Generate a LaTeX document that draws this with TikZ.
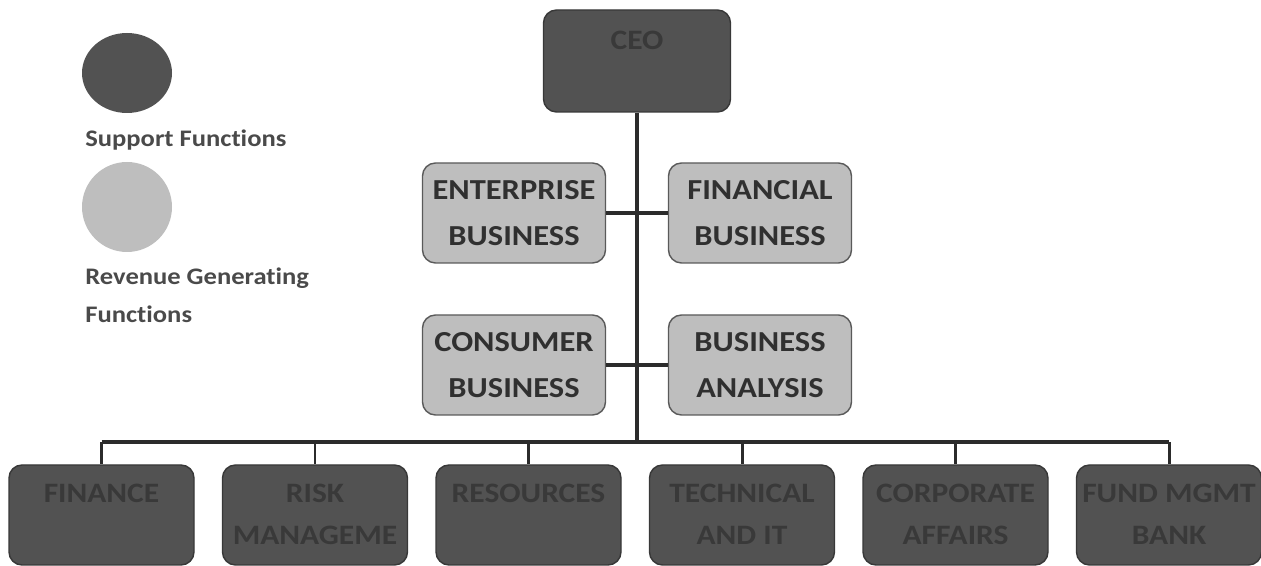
\documentclass[tikz,border=0pt]{standalone}
\usepackage{fontspec}
\setmainfont{Carlito}[FakeStretch=1.12, Ligatures=NoCommon]
\usetikzlibrary{positioning, calc, shapes.geometric}

\definecolor{supfill}{HTML}{525252}
\definecolor{supline}{HTML}{383838}
\definecolor{supink}{HTML}{393939}
\definecolor{revfill}{HTML}{BEBEBE}
\definecolor{revline}{HTML}{5A5A5A}
\definecolor{revink}{HTML}{303030}
\definecolor{wire}{HTML}{2B2B2B}
\definecolor{keyink}{HTML}{4A4A4A}

\begin{document}
\begin{tikzpicture}[
  font=\bfseries,
  support/.style={draw=supline, line width=0.8pt, rounded corners=0.26cm, fill=supfill, minimum width=3.7cm, minimum height=2.0cm, inner sep=0pt},
  supptext/.style={anchor=north, align=center, text=supink, font=\bfseries\fontsize{16}{24}\selectfont, inner sep=0pt},
  revenue/.style={draw=revline, line width=0.8pt, rounded corners=0.26cm, fill=revfill, minimum width=3.66cm, minimum height=2.0cm, align=center, text=revink, font=\bfseries\fontsize{16.5}{26}\selectfont, inner sep=0pt},
  keytext/.style={anchor=base west, text=keyink, font=\bfseries\fontsize{13.5}{21.6}\selectfont, inner sep=0pt},
  spine/.style={draw=wire, line width=2.3pt},
  drop/.style={draw=wire, line width=1.7pt}
]
\useasboundingbox (0,0) rectangle (25.22,11.32);

% legend
\node[fill=supfill, ellipse, minimum width=1.8cm, minimum height=1.6cm, inner sep=0pt] (keysup) at (2.54,9.86) {};
\node[keytext] (keysuptext) at (1.70,8.38) {Support Functions};
\node[fill=revfill, circle, minimum size=1.8cm, inner sep=0pt] (keyrev) at (2.54,7.18) {};
\node[keytext] (keyrevtext) at (1.70,5.62) {Revenue Generating};
\node[keytext] (keyrevtext2) at (1.70,4.86) {Functions};

% head of the chart
\node[support, minimum width=3.74cm, minimum height=2.04cm] (ceo) at (12.74,10.10) {};
\node[supptext] at ([yshift=-0.42cm]ceo.north) {CEO};

% revenue units on the spine
\node[revenue] (ent) at (10.28,7.06) {ENTERPRISE\\BUSINESS};
\node[revenue] (fin) at (15.20,7.06) {FINANCIAL\\BUSINESS};
\node[revenue] (con) at (10.28,4.02) {CONSUMER\\BUSINESS};
\node[revenue] (ana) at (15.20,4.02) {BUSINESS\\ANALYSIS};

\coordinate (hub) at (12.74,2.48);

% support units along the bottom
\foreach \name/\txt [count=\i from 0] in {financebox/FINANCE, riskbox/RISK\\MANAGEME, resbox/RESOURCES, techbox/TECHNICAL\\AND IT, corpbox/CORPORATE\\AFFAIRS, fundbox/FUND MGMT\\BANK} {
  \node[support] (\name) at (2.03+4.27*\i,1.02) {};
  \node[supptext] at ([yshift=-0.38cm]\name.north) {\txt};
}

% connectors
\draw[spine] (ceo.south) -- (hub);
\draw[spine] (ent.east) -- (fin.west);
\draw[spine] (con.east) -- (ana.west);
\draw[spine] (financebox.north |- hub) -- (fundbox.north |- hub);
\foreach \name in {financebox, riskbox, resbox, techbox, corpbox, fundbox}
  \draw[drop] (\name.north |- hub) -- (\name.north);
\end{tikzpicture}
\end{document}
